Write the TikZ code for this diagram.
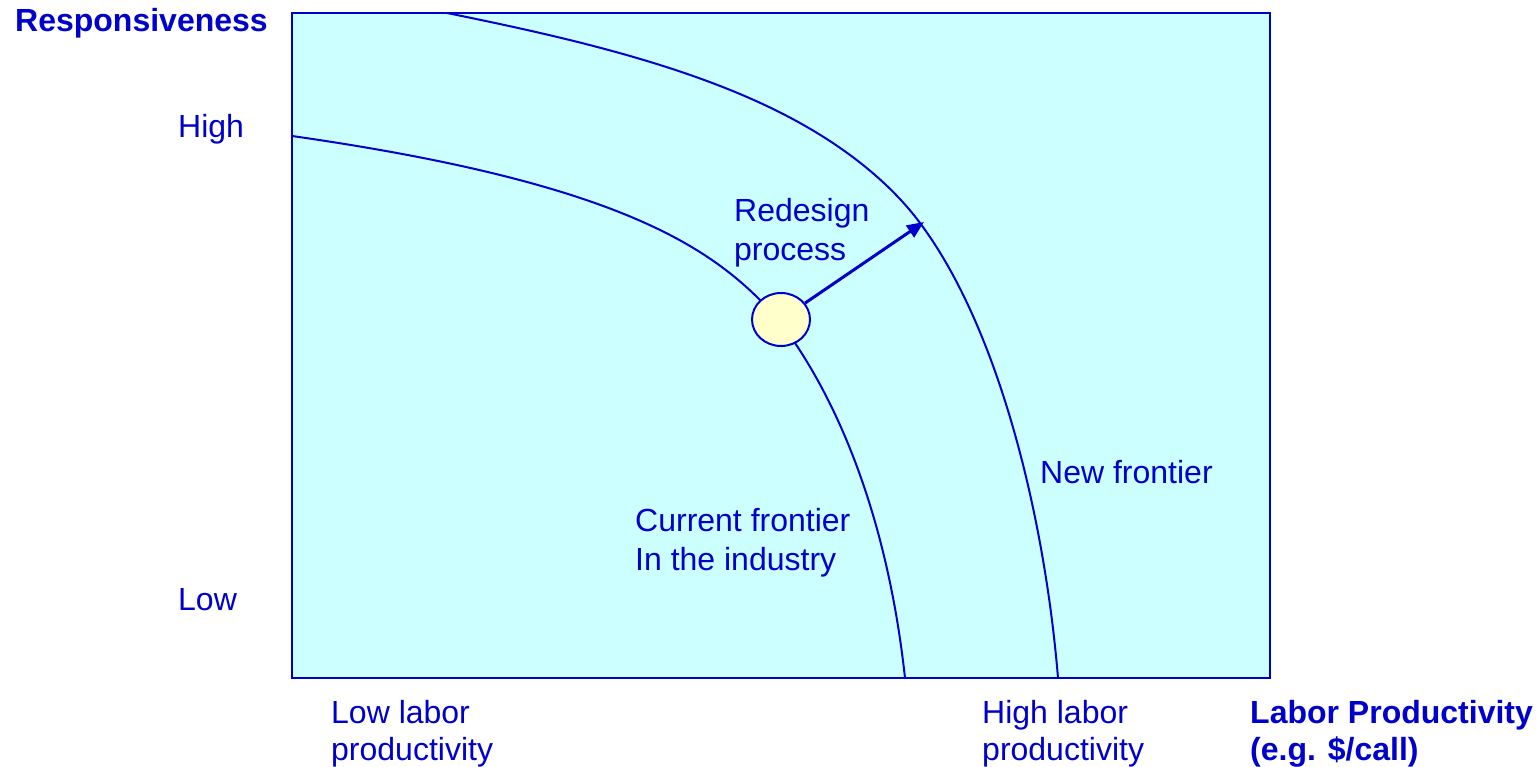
\documentclass[tikz,border=0pt]{standalone}
\usepackage{fontspec}
\setmainfont{Liberation Sans}
\usetikzlibrary{arrows.meta,shapes.geometric}
\definecolor{ink}{HTML}{0000CC}
\definecolor{panel}{HTML}{CCFFFF}
\definecolor{dot}{HTML}{FFFFCC}
\begin{document}
\begin{tikzpicture}[x=1pt,y=-1pt,
  lbl/.style={text=ink,inner sep=0pt,anchor=base west,align=left,
    font=\fontsize{32}{39}\selectfont},
  blbl/.style={lbl,font=\fontsize{32}{39}\selectfont\bfseries},
  axislbl/.style={lbl,font=\fontsize{32}{37}\selectfont},
  baxislbl/.style={lbl,font=\fontsize{32}{37}\selectfont\bfseries},
  frontier/.style={draw=ink,line width=2pt}]
\useasboundingbox (0,0) rectangle (1537,767);
% plotting area
\draw[draw=ink,fill=panel,line width=2pt] (292,13) rectangle (1270,678);
% current frontier (its middle runs under the marker)
\draw[frontier] (292,136) .. controls (600,180) and (700,240) .. (760,300)
  -- (795,343) .. controls (850,425) and (890,540) .. (905,678);
% new frontier
\draw[frontier] (447,13) .. controls (570,38) and (707,69) .. (807,127)
  .. controls (847,150) and (890,182.5) .. (920,223)
  .. controls (1000,330) and (1045,520) .. (1058,678);
% current position and the redesign shift
\node[ellipse,draw=ink,fill=dot,line width=2pt,minimum width=58pt,minimum height=53pt,inner sep=0pt] (pos) at (781,319.5) {};
\coordinate (tip) at (924,222);
\draw[ink,line width=3pt,-{Triangle[length=17pt,width=14pt]}] (pos) -- (tip);
% labels (multi-line nodes sit on their last baseline)
\node[blbl] (yaxis) at (15,32) {Responsiveness};
\node[lbl] (high) at (178,138) {High};
\node[lbl] (low) at (178,610) {Low};
\node[lbl] (redesign) at (734,261) {Redesign\\process};
\node[lbl] (newf) at (1040,483) {New frontier};
\node[lbl] (curf) at (635,570) {Current frontier\\In the industry};
\node[axislbl] (lowlab) at (331,760) {Low labor\\productivity};
\node[axislbl] (highlab) at (982,760) {High labor\\productivity};
\node[baxislbl] (xaxis) at (1250,760) {Labor Productivity\\(e.g. \$/call)};
\end{tikzpicture}
\end{document}
